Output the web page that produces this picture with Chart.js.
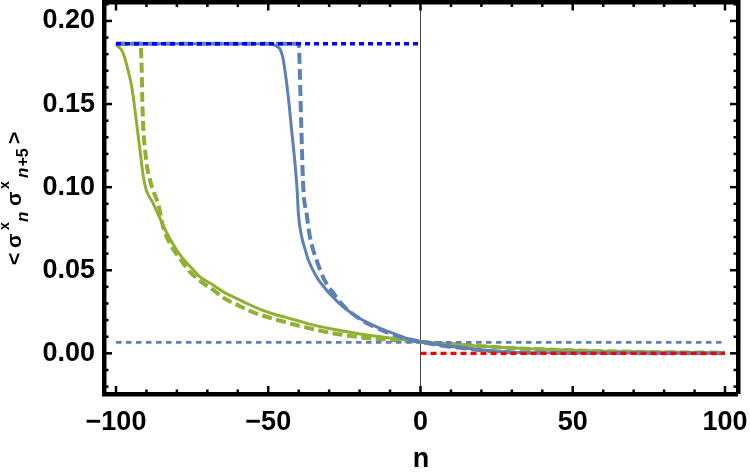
<!DOCTYPE html>
<html><head><meta charset="utf-8">
<script src="https://cdn.jsdelivr.net/npm/chart.js@4.4.1/dist/chart.umd.min.js"></script>
<style>html,body{margin:0;padding:0;background:#fff;}canvas{display:block;}</style>
</head><body>
<canvas id="c" width="750" height="475"></canvas>
<script>
// ---------- data ----------
const xTickValues = [-100, -50, 0, 50, 100];
const yTickValues = [0, 0.05, 0.10, 0.15, 0.20];
const xMinorTicks = [-100, -90, -80, -70, -60, -50, -40, -30, -20, -10, 0, 10, 20, 30, 40, 50, 60, 70, 80, 90, 100];
const yMinorTicks = [-0.02, -0.01, 0, 0.01, 0.02, 0.03, 0.04, 0.05, 0.06, 0.07, 0.08, 0.09, 0.10, 0.11, 0.12, 0.13, 0.14, 0.15, 0.16, 0.17, 0.18, 0.19, 0.20, 0.21];

const blueSolidN = [-100, -50, -48.3, -47, -46.1, -45.2, -44.5, -43.4, -42.3, -41.2, -40.5, -40.1, -39.0, -37.8, -36.8, -34.1, -30.8, -28, -25.4, -19.9, -14.4, -8.9, -3.4, 0, 5, 10, 15, 20, 25, 30, 35, 40, 60, 80, 100];
const blueSolidV = [0.1863, 0.1863, 0.1858, 0.1845, 0.1830, 0.178, 0.170, 0.154, 0.134, 0.114, 0.098, 0.084, 0.070, 0.062, 0.056, 0.046, 0.038, 0.0325, 0.028, 0.021, 0.016, 0.012, 0.0084, 0.0070, 0.0054, 0.0041, 0.0030, 0.0020, 0.0012, 0.0007, 0.0004, 0.0003, 0.0002, 0.0001, 0.0001];

const blueDashN = [-100, -40, -39.8, -39.2, -38.5, -37.4, -36.3, -34.1, -31.5, -28.5, -25, -20, -15, -10, -5, 0, 5, 10, 15, 20, 25, 30, 35, 40, 60, 80, 100];
const blueDashV = [0.1863, 0.1863, 0.180, 0.140, 0.100, 0.084, 0.070, 0.056, 0.044, 0.036, 0.0280, 0.0208, 0.0158, 0.0119, 0.0090, 0.0070, 0.0053, 0.0040, 0.0029, 0.0019, 0.0011, 0.0006, 0.0004, 0.0003, 0.0002, 0.0001, 0.0001];

const greenSolidN = [-100, -99.5, -98, -97, -96, -95, -94.3, -93.2, -92.1, -91, -90, -89, -88, -87, -85.5, -84, -82.3, -80, -78, -75, -72.4, -68, -64.8, -61.5, -57, -52, -48, -44, -40, -35, -30, -26, -20, -15, -10, -5, 0, 10, 20, 30, 40, 50, 60, 70, 80, 90, 100];
const greenSolidV = [0.1863, 0.185, 0.182, 0.177, 0.170, 0.162, 0.154, 0.138, 0.122, 0.106, 0.098, 0.094, 0.091, 0.087, 0.081, 0.075, 0.069, 0.062, 0.057, 0.051, 0.046, 0.041, 0.037, 0.034, 0.030, 0.026, 0.0235, 0.0215, 0.0195, 0.0170, 0.0150, 0.0136, 0.0117, 0.0104, 0.0092, 0.0081, 0.0070, 0.0056, 0.0043, 0.0032, 0.0024, 0.0018, 0.0013, 0.0010, 0.0007, 0.0005, 0.0004];

const greenDashN = [-100, -92, -91.6, -91.3, -90.2, -88.8, -87.4, -86, -84.5, -82, -79, -75.7, -72, -68, -64.8, -60, -56, -52, -48.3, -44, -40, -35, -30, -25, -20, -15, -10, -5, 0, 10, 20, 30, 40, 50, 60, 70, 80, 90, 100];
const greenDashV = [0.1863, 0.1863, 0.174, 0.148, 0.118, 0.104, 0.096, 0.089, 0.076, 0.065, 0.057, 0.049, 0.043, 0.038, 0.0335, 0.0290, 0.0255, 0.0228, 0.0208, 0.0186, 0.0166, 0.0145, 0.0125, 0.0110, 0.0097, 0.0088, 0.0081, 0.0075, 0.0070, 0.0056, 0.0043, 0.0032, 0.0024, 0.0018, 0.0013, 0.0010, 0.0007, 0.0005, 0.0004];

const topDottedN = [-100, 0];
const topDottedV = [0.1863, 0.1863];
const midDottedN = [-100, 100];
const midDottedV = [0.0066, 0.0066];
const redDottedN = [0, 100];
const redDottedV = [0, 0];

// ---------- styling ----------
const BLUE = '#5E81B5';
const GREEN = '#8FB032';
const FONT = '"Liberation Sans", Arial, sans-serif';
const pts = (n, v) => n.map((x, i) => ({x: x, y: v[i]}));
const isXMajor = (v) => xTickValues.includes(v);
const isYMajor = (v) => yTickValues.some(t => Math.abs(t - v) < 1e-9);
const tv = (c) => (c && c.tick ? c.tick.value : NaN);
const X_MIN = -103.94, X_MAX = 104.27, Y_MIN = -0.02446, Y_MAX = 0.2111;
const FRAME = 4.5;

// inward frame ticks, positioned by the chart's own scales
const tickPlugin = {
  id: 'innerTicks',
  afterDatasetsDraw(chart) {
    const ctx = chart.ctx, a = chart.chartArea, xs = chart.scales.x, ys = chart.scales.y;
    ctx.save();
    ctx.fillStyle = '#000';
    const tw = 2.5, maj = 8, mnr = 4.5;
    for (const v of xMinorTicks) {
      const p = xs.getPixelForValue(v);
      const len = isXMajor(v) ? maj : mnr;
      ctx.fillRect(p - tw / 2, a.bottom - len, tw, len);
      ctx.fillRect(p - tw / 2, a.top, tw, len);
    }
    for (const v of yMinorTicks) {
      const p = ys.getPixelForValue(v);
      const len = isYMajor(v) ? maj : mnr;
      ctx.fillRect(a.left, p - tw / 2, len, tw);
      ctx.fillRect(a.right - len, p - tw / 2, len, tw);
    }
    ctx.restore();
  }
};

const titlePlugin = {
  id: 'titles',
  afterDraw(chart) {
    const ctx = chart.ctx, a = chart.chartArea;
    ctx.save();
    ctx.fillStyle = '#000';
    ctx.font = 'bold 27px ' + FONT;
    ctx.textAlign = 'center';
    ctx.textBaseline = 'alphabetic';
    ctx.fillText('n', (a.left + a.right) / 2, 467);
    ctx.translate(21, 265);
    ctx.rotate(-Math.PI / 2);
    ctx.textAlign = 'left';
    const big = 'bold 21px ' + FONT, sup = 'bold 14px ' + FONT, subIt = 'italic bold 17px ' + FONT, sub = 'bold 16px ' + FONT;
    const put = (t, f, u, dy) => { ctx.font = f; ctx.fillText(t, u, dy); return ctx.measureText(t).width; };
    put('<', big, 0, 0);
    put('\u03C3', big, 17, 0);
    put('x', sup, 35, -12);
    put('n', subIt, 43, 7);
    put('\u03C3', big, 59, 0);
    put('x', sup, 76, -12);
    const wn = put('n', subIt, 87, 7);
    put('+5', sub, 87 + wn + 1, 7);
    put('>', big, 121, 0);
    ctx.restore();
  }
};

const ds = (label, n, v, color, width, dash, mono) => ({
  label, data: pts(n, v), borderColor: color, borderWidth: width,
  borderDash: dash, pointRadius: 0, fill: false,
  cubicInterpolationMode: mono ? 'monotone' : 'default', tension: 0
});
const zeroPad = (s) => { s.paddingTop = 0; s.paddingBottom = 0; s.paddingLeft = 0; s.paddingRight = 0; };
const labelFont = { family: FONT, size: 27, weight: 'bold' };
function gridFor(zeroLine) {
  return {
    display: true, drawOnChartArea: !!zeroLine, drawTicks: false,
    color: (c) => (zeroLine && tv(c) === 0 ? '#444' : 'rgba(0,0,0,0)'),
    lineWidth: (c) => (zeroLine && tv(c) === 0 ? 1 : 0)
  };
}
const border = { display: true, color: '#000', width: FRAME };

new Chart(document.getElementById('c'), {
  type: 'line',
  data: {
    datasets: [
      ds('top dotted', topDottedN, topDottedV, '#0000FF', 3.5, [5, 4], false),
      ds('red dotted', redDottedN, redDottedV, '#FF0000', 3.2, [6, 4], false),
      ds('mid dotted', midDottedN, midDottedV, BLUE, 2.7, [5.5, 4.5], false),
      ds('blue dashed', blueDashN, blueDashV, BLUE, 4, [11, 5], true),
      ds('blue solid', blueSolidN, blueSolidV, BLUE, 3, [], true),
      ds('green dashed', greenDashN, greenDashV, GREEN, 4, [10, 4.5], true),
      ds('green solid', greenSolidN, greenSolidV, GREEN, 3, [], true)
    ]
  },
  options: {
    responsive: false, animation: false, events: [],
    layout: { padding: 0, autoPadding: false },
    plugins: { legend: { display: false }, tooltip: { enabled: false } },
    scales: {
      x: {
        type: 'linear', axis: 'x', position: 'bottom', min: X_MIN, max: X_MAX,
        grid: gridFor(true), border,
        afterBuildTicks: (s) => { s.ticks = xTickValues.map(v => ({value: v})); },
        afterFit: (s) => { s.height = 81; zeroPad(s); },
        ticks: { includeBounds: false, autoSkip: false, maxRotation: 0, minRotation: 0, padding: 12, color: '#000', font: labelFont,
          callback: (v) => (v < 0 ? '\u2212' + Math.abs(v) : String(v)) }
      },
      x2: {
        type: 'linear', axis: 'x', position: 'top', min: X_MIN, max: X_MAX,
        grid: gridFor(false), border,
        afterBuildTicks: (s) => { s.ticks = xTickValues.map(v => ({value: v})); },
        afterFit: (s) => { s.height = 2.5; zeroPad(s); },
        ticks: { display: false, includeBounds: false, autoSkip: false }
      },
      y: {
        type: 'linear', axis: 'y', position: 'left', min: Y_MIN, max: Y_MAX,
        grid: gridFor(false), border,
        afterBuildTicks: (s) => { s.ticks = yTickValues.map(v => ({value: v})); },
        afterFit: (s) => { s.width = 104; zeroPad(s); },
        ticks: { includeBounds: false, autoSkip: false, padding: 9, color: '#000', font: labelFont,
          callback: (v) => Number(v).toFixed(2) }
      },
      y2: {
        type: 'linear', axis: 'y', position: 'right', min: Y_MIN, max: Y_MAX,
        grid: gridFor(false), border,
        afterBuildTicks: (s) => { s.ticks = yTickValues.map(v => ({value: v})); },
        afterFit: (s) => { s.width = 12; zeroPad(s); },
        ticks: { display: false, includeBounds: false, autoSkip: false }
      }
    }
  },
  plugins: [tickPlugin, titlePlugin]
});
</script>
</body></html>
